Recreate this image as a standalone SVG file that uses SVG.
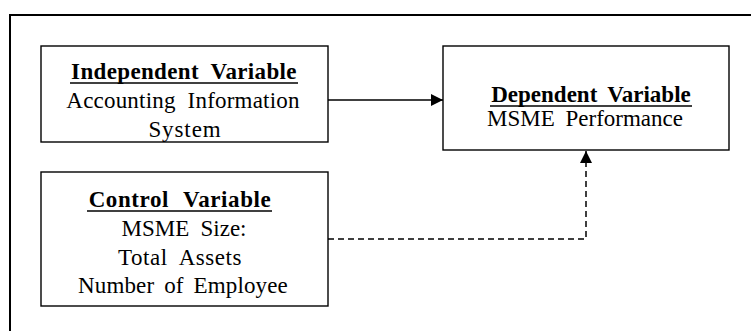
<svg xmlns="http://www.w3.org/2000/svg" width="751" height="331" viewBox="0 0 751 331">
<defs>
<style>
.box{fill:#fff;stroke:#000;stroke-width:1.4}
.frame{fill:none;stroke:#000;stroke-width:2}
.ul{stroke:#000;stroke-width:1.6}
.conn{fill:none;stroke:#000;stroke-width:1.5}
.dash{stroke-dasharray:6 4}
</style>
<marker id="ah" viewBox="0 0 12 12" refX="12" refY="6" markerWidth="12" markerHeight="12" markerUnits="userSpaceOnUse" orient="auto">
<path d="M0,0 L12,6 L0,12 Z" fill="#000"/>
</marker>
</defs>
<rect width="751" height="331" fill="#fff"/>
<rect class="frame" x="10" y="15" width="760" height="340"/>
<g id="connectors">
<line class="conn" x1="328" y1="100" x2="443" y2="100" marker-end="url(#ah)"/>
<polyline class="conn dash" points="328,239 586,239 586,151" marker-end="url(#ah)"/>
</g>
<g font-family="Liberation Serif" font-size="23" text-anchor="middle" fill="#000">
<g id="independent">
<rect class="box" x="41" y="46" width="287" height="96"/>
<text font-weight="bold" x="184" y="79" word-spacing="6" letter-spacing="0.35">Independent Variable</text>
<line class="ul" x1="70" y1="83" x2="298" y2="83"/>
<text x="183" y="108" word-spacing="6" letter-spacing="0.2">Accounting Information</text>
<text x="185" y="137" letter-spacing="0.9">System</text>
</g>
<g id="dependent">
<rect class="box" x="443" y="46" width="286" height="104"/>
<text font-weight="bold" x="591" y="102" word-spacing="4.6">Dependent Variable</text>
<line class="ul" x1="490" y1="106" x2="692" y2="106"/>
<text x="585" y="126" word-spacing="5">MSME Performance</text>
</g>
<g id="control">
<rect class="box" x="41" y="172" width="287" height="134"/>
<text font-weight="bold" x="180" y="207" word-spacing="8" letter-spacing="0.6">Control Variable</text>
<line class="ul" x1="87" y1="211" x2="272" y2="211"/>
<text x="184" y="236" word-spacing="5.5">MSME Size:</text>
<text x="180" y="265" word-spacing="6" letter-spacing="0.55">Total Assets</text>
<text x="183" y="293" word-spacing="4" letter-spacing="0.15">Number of Employee</text>
</g>
</g>
</svg>
